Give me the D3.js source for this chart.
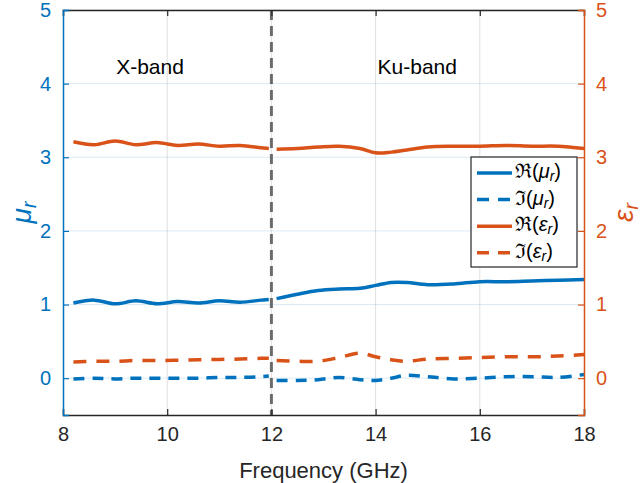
<!DOCTYPE html>
<html>
<head>
<meta charset="utf-8">
<script src="https://cdn.jsdelivr.net/npm/d3@7"></script>
<style>
  body { margin: 0; background: #fff; }
  text { font-family: "Liberation Sans", Arial, sans-serif; }
</style>
</head>
<body>
<div id="chart"></div>
<script>
// frequency grids (GHz) for the two bands
const freqX = [8.2, 8.6, 9.0, 9.4, 9.8, 10.2, 10.6, 11.0, 11.4, 11.8, 11.95];
const freqKu = [12.1, 12.5, 12.9, 13.3, 13.7, 14.0, 14.3, 14.6, 15.0, 15.5, 16.0, 16.5, 17.0, 17.5, 18.0];

// permeability
const reMuX = [1.02, 1.06, 1.01, 1.05, 1.01, 1.04, 1.02, 1.05, 1.03, 1.06, 1.07];
const reMuKu = [1.08, 1.14, 1.19, 1.21, 1.22, 1.26, 1.30, 1.30, 1.27, 1.28, 1.31, 1.31, 1.32, 1.33, 1.34];
const imMuX = [-0.01, 0.0, -0.01, 0.0, 0.0, 0.0, 0.0, 0.01, 0.01, 0.02, 0.03];
const imMuKu = [-0.03, -0.03, -0.02, 0.01, -0.02, -0.03, 0.0, 0.04, 0.02, -0.01, 0.0, 0.02, 0.02, 0.01, 0.05];

// permittivity
const reEpsX = [3.21, 3.17, 3.22, 3.17, 3.20, 3.16, 3.18, 3.15, 3.16, 3.13, 3.12];
const reEpsKu = [3.11, 3.12, 3.14, 3.15, 3.12, 3.06, 3.07, 3.10, 3.14, 3.15, 3.15, 3.16, 3.15, 3.15, 3.12];
const imEpsX = [0.22, 0.23, 0.23, 0.24, 0.24, 0.245, 0.25, 0.255, 0.26, 0.27, 0.27];
const imEpsKu = [0.24, 0.23, 0.23, 0.28, 0.34, 0.29, 0.25, 0.23, 0.26, 0.27, 0.28, 0.29, 0.29, 0.30, 0.32];

const xTicks = [8, 10, 12, 14, 16, 18];
const yTicks = [0, 1, 2, 3, 4, 5];
const bandLabels = [{ text: "X-band", f: 9.67, v: 4.2 }, { text: "Ku-band", f: 14.8, v: 4.2 }];
const bandEdge = 12;

const blue = "#0072BD", orange = "#D95319";

const width = 641, height = 483;
const margin = { top: 10, right: 57, bottom: 68, left: 63 };

const svg = d3.select("#chart").append("svg")
  .attr("width", width)
  .attr("height", height);

const x = d3.scaleLinear().domain([8, 18]).range([margin.left, width - margin.right]);
const yL = d3.scaleLinear().domain([-0.5, 5]).range([height - margin.bottom, margin.top]);
const yR = d3.scaleLinear().domain([-0.5, 5]).range([height - margin.bottom, margin.top]);

const x0 = margin.left, x1 = width - margin.right;
const y0 = height - margin.bottom, y1 = margin.top;

// grid
svg.append("g").selectAll("line")
  .data(xTicks.slice(1, -1))
  .join("line")
  .attr("x1", d => x(d)).attr("x2", d => x(d))
  .attr("y1", y0).attr("y2", y1)
  .attr("stroke", "#262626").attr("stroke-opacity", 0.15).attr("stroke-width", 1);

svg.append("g").selectAll("line")
  .data(yTicks)
  .join("line")
  .attr("x1", x0).attr("x2", x1)
  .attr("y1", d => yL(d)).attr("y2", d => yL(d))
  .attr("stroke", blue).attr("stroke-opacity", 0.15).attr("stroke-width", 1);

// lines
const line = (yScale) => d3.line()
  .x(d => x(d[0]))
  .y(d => yScale(d[1]))
  .curve(d3.curveCatmullRom);

const series = [
  { f: freqX, v: reMuX, y: yL, color: blue, dash: null },
  { f: freqKu, v: reMuKu, y: yL, color: blue, dash: null },
  { f: freqX, v: imMuX, y: yL, color: blue, dash: "11,8" },
  { f: freqKu, v: imMuKu, y: yL, color: blue, dash: "11,8" },
  { f: freqX, v: reEpsX, y: yR, color: orange, dash: null },
  { f: freqKu, v: reEpsKu, y: yR, color: orange, dash: null },
  { f: freqX, v: imEpsX, y: yR, color: orange, dash: "13,10" },
  { f: freqKu, v: imEpsKu, y: yR, color: orange, dash: "13,10" }
];

svg.append("g").selectAll("path")
  .data(series)
  .join("path")
  .attr("fill", "none")
  .attr("stroke", d => d.color)
  .attr("stroke-width", 3.5)
  .attr("stroke-dasharray", d => d.dash)
  .attr("d", d => line(d.y)(d.f.map((f, i) => [f, d.v[i]])));

// band divider
svg.append("line")
  .attr("x1", x(bandEdge)).attr("x2", x(bandEdge))
  .attr("y1", y1).attr("y2", y0)
  .attr("stroke", "#555").attr("stroke-opacity", 0.85)
  .attr("stroke-width", 3)
  .attr("stroke-dasharray", "10,6");

// band labels
svg.append("g").selectAll("text")
  .data(bandLabels)
  .join("text")
  .attr("x", d => x(d.f))
  .attr("y", d => yL(d.v))
  .attr("text-anchor", "middle")
  .attr("dominant-baseline", "middle")
  .attr("font-size", 21)
  .attr("fill", "#000")
  .text(d => d.text);

// axes
const xAxis = svg.append("g")
  .attr("transform", `translate(0,${y0})`)
  .call(d3.axisBottom(x).tickValues(xTicks).tickSize(-6).tickPadding(12).tickFormat(d3.format("d")));
xAxis.select(".domain").attr("stroke", "#262626").attr("stroke-width", 1.5);
xAxis.selectAll(".tick line").attr("stroke", "#262626").attr("stroke-width", 1.2);
xAxis.selectAll(".tick text").attr("font-size", 20).attr("fill", "#262626")
  .attr("font-family", "Liberation Sans, Arial, sans-serif");

const xTop = svg.append("g")
  .attr("transform", `translate(0,${y1})`)
  .call(d3.axisTop(x).tickValues(xTicks).tickSize(-6).tickFormat(""));
xTop.select(".domain").attr("stroke", "#262626").attr("stroke-width", 1.5);
xTop.selectAll(".tick line").attr("stroke", "#262626").attr("stroke-width", 1.2);

const yAxisL = svg.append("g")
  .attr("transform", `translate(${x0},0)`)
  .call(d3.axisLeft(yL).tickValues(yTicks).tickSize(-6).tickPadding(12).tickFormat(d3.format("d")));
yAxisL.select(".domain").attr("stroke", blue).attr("stroke-width", 1.5);
yAxisL.selectAll(".tick line").attr("stroke", blue).attr("stroke-width", 1.2);
yAxisL.selectAll(".tick text").attr("font-size", 20).attr("fill", blue)
  .attr("font-family", "Liberation Sans, Arial, sans-serif");

const yAxisR = svg.append("g")
  .attr("transform", `translate(${x1},0)`)
  .call(d3.axisRight(yR).tickValues(yTicks).tickSize(-6).tickPadding(12).tickFormat(d3.format("d")));
yAxisR.select(".domain").attr("stroke", orange).attr("stroke-width", 1.5);
yAxisR.selectAll(".tick line").attr("stroke", orange).attr("stroke-width", 1.2);
yAxisR.selectAll(".tick text").attr("font-size", 20).attr("fill", orange)
  .attr("font-family", "Liberation Sans, Arial, sans-serif");

// axis labels
svg.append("text")
  .attr("x", (x0 + x1) / 2)
  .attr("y", 472)
  .attr("text-anchor", "middle")
  .attr("dominant-baseline", "middle")
  .attr("font-size", 22)
  .attr("fill", "#262626")
  .text("Frequency (GHz)");

function mathLabel(g, sym, color, size) {
  const t = g.append("text")
    .attr("font-family", "DejaVu Serif, serif")
    .attr("font-style", "italic")
    .attr("fill", color)
    .attr("font-size", size)
    .attr("text-anchor", "middle")
    .attr("dominant-baseline", "middle");
  t.append("tspan").text(sym);
  t.append("tspan").attr("font-size", size * 0.7).attr("dy", size * 0.25).text("r");
  return t;
}

mathLabel(svg.append("g").attr("transform", `translate(24,${(y0 + y1) / 2}) rotate(-90)`), "μ", blue, 28);
mathLabel(svg.append("g").attr("transform", `translate(626,${(y0 + y1) / 2}) rotate(-90)`), "ε", orange, 28);

// legend
const legendItems = [
  { pre: "ℜ(", sym: "μ", color: blue, dash: null },
  { pre: "ℑ(", sym: "μ", color: blue, dash: "12,9" },
  { pre: "ℜ(", sym: "ε", color: orange, dash: null },
  { pre: "ℑ(", sym: "ε", color: orange, dash: "12,9" }
];

const legend = svg.append("g").attr("transform", "translate(471,157)");
legend.append("rect")
  .attr("width", 106).attr("height", 110)
  .attr("fill", "#fff").attr("stroke", "#262626").attr("stroke-width", 1.2);

const rows = legend.selectAll("g.row")
  .data(legendItems)
  .join("g")
  .attr("class", "row")
  .attr("transform", (d, i) => `translate(0,${16 + i * 26.6})`);

rows.append("line")
  .attr("x1", 6).attr("x2", 41)
  .attr("stroke", d => d.color)
  .attr("stroke-width", 3.5)
  .attr("stroke-dasharray", d => d.dash);

const lt = rows.append("text")
  .attr("x", 44)
  .attr("dominant-baseline", "middle")
  .attr("font-family", "DejaVu Serif, serif")
  .attr("font-size", 20)
  .attr("fill", "#000");
lt.append("tspan").text(d => d.pre);
lt.append("tspan").attr("font-style", "italic").text(d => d.sym);
lt.append("tspan").attr("font-style", "italic").attr("font-size", 14).attr("dy", 4).text("r");
lt.append("tspan").attr("dy", -4).text(")");
</script>
</body>
</html>
